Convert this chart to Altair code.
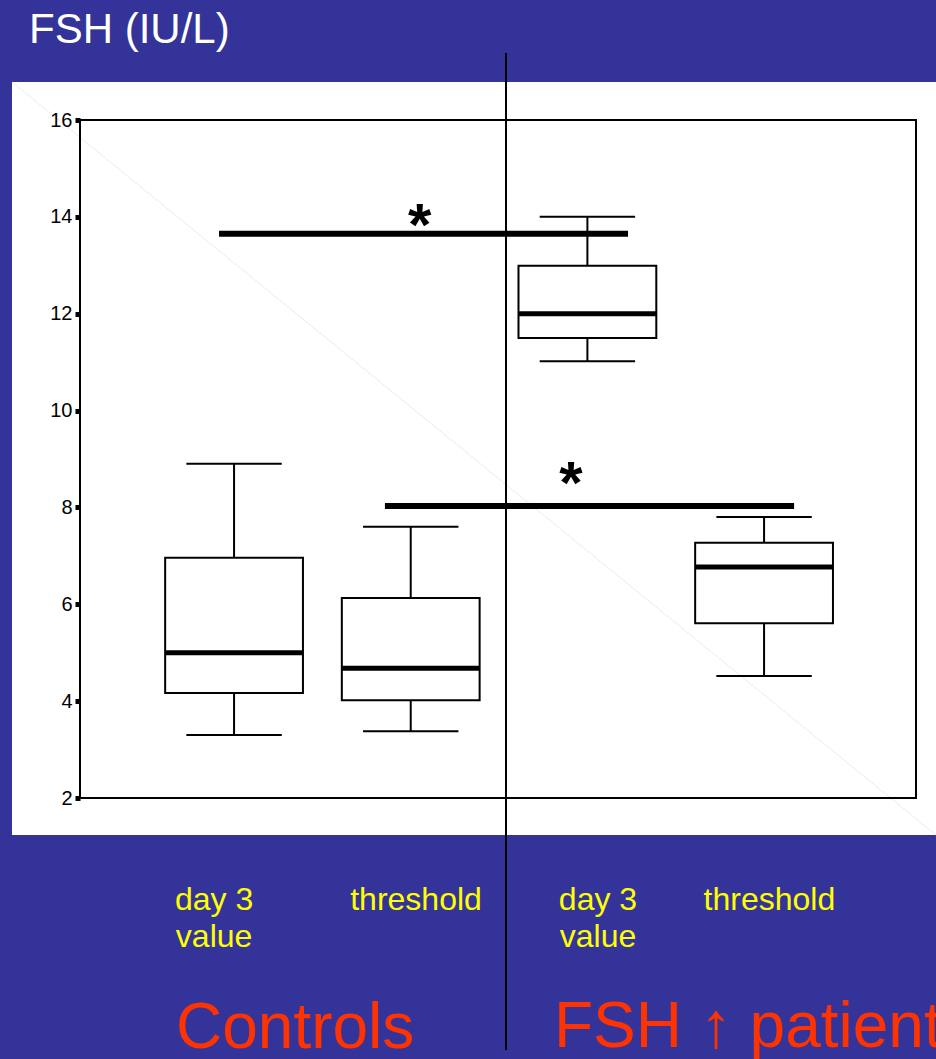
import altair as alt
import pandas as pd

# Box-plot summaries: FSH (IU/L) per group and measurement
groups = ["Controls", "Controls", "FSH ↑ patients", "FSH ↑ patients"]
measures = ["day 3\nvalue", "threshold", "day 3\nvalue", "threshold"]
box_pos = [1, 2, 3, 4]
whisker_low = [3.30, 3.38, 11.02, 4.52]
q1 = [4.17, 4.02, 11.50, 5.61]
median = [5.00, 4.68, 12.00, 6.77]
q3 = [6.96, 6.13, 12.99, 7.27]
whisker_high = [8.90, 7.60, 14.00, 7.80]
label_pos = [0.887, 2.03, 3.06, 4.03]

# Significance brackets and their asterisks
sig_start = [0.915, 1.854]
sig_end = [3.23, 4.17]
sig_level = [13.65, 8.03]
star_pos = [2.05, 2.907]
star_level = [14.05, 8.73]

W, H = 836, 678
FONT = "Liberation Sans"

boxes = pd.DataFrame({
    "group": groups, "measure": measures, "pos": box_pos,
    "lo": whisker_low, "q1": q1, "med": median, "q3": q3, "hi": whisker_high,
    "label_pos": label_pos,
})
sig = pd.DataFrame({"x1": sig_start, "x2": sig_end, "y": sig_level,
                    "sx": star_pos, "sy": star_level})

xs = alt.Scale(domain=[0.128, 4.860], nice=False, zero=False)
ys = alt.Scale(domain=[2, 16], nice=False, zero=False)
y_axis = alt.Axis(values=[2, 4, 6, 8, 10, 12, 14, 16], grid=False, domain=False,
                  tickColor="black", tickSize=5, tickWidth=5, labelPadding=3,
                  labelFont=FONT, labelFontSize=20, labelColor="black",
                  title=None, zindex=1)


def X(field):
    return alt.X(field, type="quantitative", scale=xs, axis=None)


def Y(field):
    return alt.Y(field, type="quantitative", scale=ys, axis=y_axis)


one = alt.Data(values=[{}])

panel = alt.Chart(one).mark_rect(fill="white").encode(
    x=alt.value(-68), x2=alt.value(856), y=alt.value(-38), y2=alt.value(715))

diagonal = alt.Chart(one).mark_rule(color="#ebebeb", strokeWidth=1).encode(
    x=alt.value(-68), x2=alt.value(856), y=alt.value(-38), y2=alt.value(715))

frame = alt.Chart(one).mark_rect(fill=None, stroke="black", strokeWidth=2).encode(
    x=alt.value(0), x2=alt.value(W), y=alt.value(0), y2=alt.value(H))

base = alt.Chart(boxes).transform_calculate(
    bl="datum.pos - 0.39", br="datum.pos + 0.39",
    cl="datum.pos - 0.27", cr="datum.pos + 0.27")

whisk_lo = base.mark_rule(color="black", strokeWidth=2).encode(
    x=X("pos"), y=Y("lo"), y2="q1")
whisk_hi = base.mark_rule(color="black", strokeWidth=2).encode(
    x=X("pos"), y=Y("q3"), y2="hi")
cap_lo = base.mark_rule(color="black", strokeWidth=2).encode(
    x=X("cl"), x2="cr", y=Y("lo"))
cap_hi = base.mark_rule(color="black", strokeWidth=2).encode(
    x=X("cl"), x2="cr", y=Y("hi"))
box = base.mark_rect(fill="white", stroke="black", strokeWidth=2).encode(
    x=X("bl"), x2="br", y=Y("q1"), y2="q3")
med = base.mark_rule(color="black", strokeWidth=5).encode(
    x=X("bl"), x2="br", y=Y("med"))

sig_bar = alt.Chart(sig).mark_rule(color="black", strokeWidth=6).encode(
    x=X("x1"), x2="x2", y=Y("y"))
stars = alt.Chart(sig).mark_text(
    text="*", font=FONT, fontSize=60, fontWeight="bold", color="black",
    baseline="middle", dy=13).encode(x=X("sx"), y=Y("sy"))

separator = alt.Chart(one).mark_rule(color="black", strokeWidth=2).encode(
    x=alt.value(426), y=alt.value(-67), y2=alt.value(930))

labels = alt.Chart(boxes).mark_text(
    font=FONT, fontSize=32, color="#FFFF00", lineBreak="\n", lineHeight=37,
    align="center", baseline="alphabetic").encode(
    x=X("label_pos"), y=alt.value(790), text="measure:N")

title = alt.Chart(one).mark_text(
    text="FSH (IU/L)", font=FONT, fontSize=42, color="white",
    align="left", baseline="alphabetic").encode(x=alt.value(-51), y=alt.value(-77))

ctrl = alt.Chart(one).mark_text(
    text="Controls", font=FONT, fontSize=64, color="#FF3300",
    align="left", baseline="alphabetic").encode(x=alt.value(96), y=alt.value(928))
pat = alt.Chart(one).mark_text(
    text="FSH ↑ patients", font=FONT, fontSize=64, color="#FF3300",
    align="left", baseline="alphabetic").encode(x=alt.value(474), y=alt.value(927))

chart = alt.layer(
    panel, diagonal, whisk_lo, whisk_hi, cap_lo, cap_hi, box, med,
    sig_bar, stars, frame, separator, labels, title, ctrl, pat,
).properties(
    width=W, height=H,
    autosize=alt.AutoSizeParams(type="none"),
    padding={"left": 80, "top": 120, "right": 20, "bottom": 261},
    background="#333399",
).configure_view(stroke=None)

chart.save("out.html", embed_options={"renderer": "svg", "actions": False})
